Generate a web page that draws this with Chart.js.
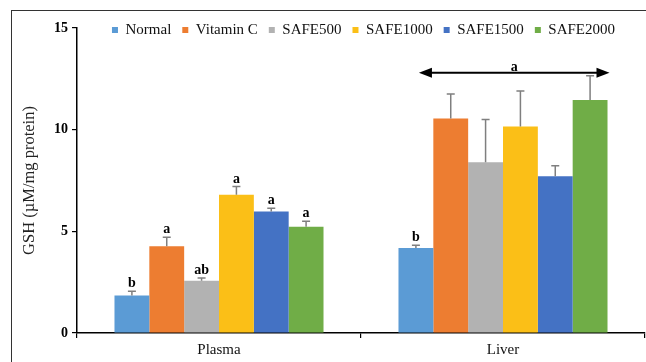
<!DOCTYPE html>
<html>
<head>
<meta charset="utf-8">
<script src="https://cdn.jsdelivr.net/npm/chart.js@4"></script>
<style>
  html, body { margin:0; padding:0; background:#fff; overflow:hidden; }
  #wrap { position:relative; width:646px; height:362px; }
  #frame { position:absolute; left:11px; top:10px; width:660px; height:380px; border:1px solid #333; box-sizing:border-box; }
  #myChart { position:absolute; left:0; top:0; }
</style>
</head>
<body>
<div id="wrap">
  <div id="frame"></div>
  <canvas id="myChart" width="646" height="362"></canvas>
</div>
<script>
const groups = ["Plasma", "Liver"];
const seriesNames = ["Normal", "Vitamin C", "SAFE500", "SAFE1000", "SAFE1500", "SAFE2000"];
const seriesColors = ["#5b9bd5", "#ed7d31", "#b2b2b2", "#fbbf17", "#4472c4", "#70ad47"];

const plasmaMeans = [1.85, 4.27, 2.57, 6.80, 5.98, 5.22];
const plasmaErrors = [0.20, 0.44, 0.13, 0.40, 0.15, 0.27];
const plasmaLetters = ["b", "a", "ab", "a", "a", "a"];

const liverMeans = [4.18, 10.55, 8.40, 10.15, 7.71, 11.46];
const liverErrors = [0.13, 1.20, 2.10, 1.75, 0.52, 1.19];
const liverLetters = ["b", "", "", "", "", ""];

const arrowValue = 12.8;
const arrowLetter = "a";
const yTicks = [0, 5, 10, 15];

const serif = "'Liberation Serif', 'Times New Roman', serif";

const datasets = seriesNames.map((name, i) => ({
  label: name,
  data: [plasmaMeans[i], liverMeans[i]],
  errors: [plasmaErrors[i], liverErrors[i]],
  letters: [plasmaLetters[i], liverLetters[i]],
  backgroundColor: seriesColors[i],
  borderWidth: 0,
  categoryPercentage: 0.736,
  barPercentage: 1.0
}));

// error bars (upward only) and significance letters
const errorBarPlugin = {
  id: "errorBars",
  afterDatasetsDraw(chart){
    const ctx = chart.ctx;
    const yScale = chart.scales.y;
    ctx.save();
    chart.data.datasets.forEach((ds, i) => {
      const meta = chart.getDatasetMeta(i);
      meta.data.forEach((bar, j) => {
        const top = yScale.getPixelForValue(ds.data[j] + ds.errors[j]);
        ctx.strokeStyle = "#7f7f7f";
        ctx.lineWidth = 1.5;
        ctx.beginPath();
        ctx.moveTo(bar.x, bar.y);
        ctx.lineTo(bar.x, top);
        ctx.moveTo(bar.x - 4, top);
        ctx.lineTo(bar.x + 4, top);
        ctx.stroke();

        if(ds.letters[j]){
          ctx.fillStyle = "#000";
          ctx.font = "bold 14px " + serif;
          ctx.textAlign = "center";
          ctx.textBaseline = "alphabetic";
          ctx.fillText(ds.letters[j], bar.x, top - 4);
        }
      });
    });

    // double arrow over the liver group
    const first = chart.getDatasetMeta(0).data[1];
    const last = chart.getDatasetMeta(chart.data.datasets.length - 1).data[1];
    const x1 = first.x + 3;
    const x2 = last.x + last.width / 2 + 2;
    const y = yScale.getPixelForValue(arrowValue);
    const head = 13;
    ctx.strokeStyle = "#000";
    ctx.fillStyle = "#000";
    ctx.lineWidth = 2;
    ctx.beginPath();
    ctx.moveTo(x1 + head - 2, y);
    ctx.lineTo(x2 - head + 2, y);
    ctx.stroke();
    ctx.beginPath();
    ctx.moveTo(x1, y);
    ctx.lineTo(x1 + head, y - 5);
    ctx.lineTo(x1 + head, y + 5);
    ctx.closePath();
    ctx.fill();
    ctx.beginPath();
    ctx.moveTo(x2, y);
    ctx.lineTo(x2 - head, y - 5);
    ctx.lineTo(x2 - head, y + 5);
    ctx.closePath();
    ctx.fill();

    ctx.font = "bold 14px " + serif;
    ctx.textAlign = "center";
    ctx.textBaseline = "alphabetic";
    ctx.fillText(arrowLetter, (x1 + x2) / 2, y - 2);
    ctx.restore();
  }
};

// legend row sits lower and further right, level with the "15" tick
const legendNudge = {
  id: "legendNudge",
  afterLayout(chart){
    const lg = chart.legend;
    if(lg){
      const h = lg.height;
      const w = lg.width;
      lg.top = 11.5;
      lg.bottom = 11.5 + h;
      lg.left = 41;
      lg.right = 41 + w;
    }
  }
};

const ctx = document.getElementById("myChart").getContext("2d");
const myChart = new Chart(ctx, {
  type: "bar",
  data: {
    labels: groups,
    datasets: datasets
  },
  plugins: [errorBarPlugin, legendNudge],
  options: {
    responsive: false,
    animation: false,
    layout: {
      padding: { top: 0, right: 1, left: 0, bottom: 0 }
    },
    plugins: {
      legend: {
        position: "top",
        align: "center",
        maxHeight: 28,
        labels: {
          boxWidth: 6,
          boxHeight: 6,
          padding: 11,
          color: "#111",
          font: { family: serif, size: 15 }
        }
      },
      tooltip: { enabled: false }
    },
    scales: {
      x: {
        grid: {
          display: true,
          drawOnChartArea: false,
          drawTicks: true,
          tickLength: 5,
          offset: true,
          color: "#000",
          lineWidth: 1.2
        },
        border: { display: true, color: "#000", width: 1.5 },
        ticks: {
          color: "#111",
          padding: 3,
          font: { family: serif, size: 15 }
        },
        afterFit(scale){ scale.height = 29; }
      },
      y: {
        min: 0,
        max: 15,
        afterBuildTicks(scale){
          scale.ticks = yTicks.map(v => ({ value: v }));
        },
        grid: {
          display: true,
          drawOnChartArea: false,
          drawTicks: true,
          tickLength: 5,
          color: "#000",
          lineWidth: 1.2
        },
        border: { display: true, color: "#000", width: 1.5 },
        ticks: {
          color: "#000",
          padding: 4,
          font: { family: serif, size: 14, weight: "bold" }
        },
        title: {
          display: true,
          text: "GSH (µM/mg protein)",
          color: "#222",
          padding: { top: 20, bottom: 0 },
          font: { family: serif, size: 16.5 }
        },
        afterFit(scale){ scale.width = 77; }
      }
    }
  }
});
</script>
</body>
</html>
